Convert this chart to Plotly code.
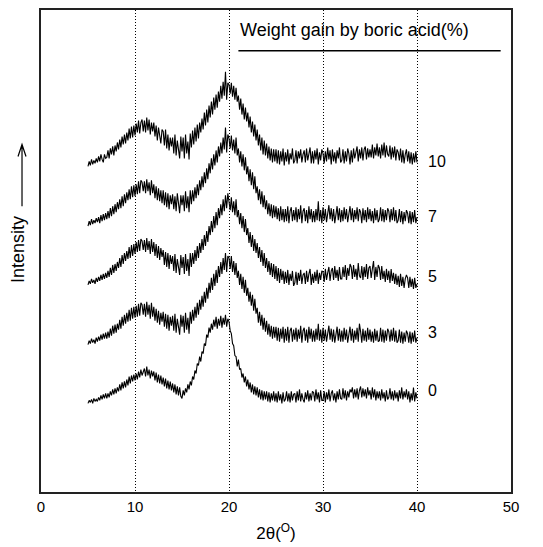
import numpy as np
import plotly.graph_objects as go

# 2theta scan grid (degrees), 0.125 deg steps from 5 to 40
two_theta = np.arange(5.0, 40.001, 0.125)

# stacked intensities (a.u.), one list per boric acid weight gain
# (one row per degree of 2theta)
wg_0 = [89, 92, 90, 93, 89, 94, 91, 93,
        91, 95, 92, 97, 93, 98, 94, 99,
        94, 99, 95, 101, 97, 103, 98, 104,
        99, 105, 101, 108, 102, 110, 104, 111,
        105, 113, 107, 116, 109, 117, 111, 118,
        112, 119, 113, 121, 115, 123, 117, 122,
        124, 116, 126, 117, 123, 114, 122, 116,
        121, 112, 120, 110, 118, 109, 117, 108,
        115, 106, 114, 104, 112, 103, 111, 102,
        109, 100, 108, 98, 106, 97, 105, 96,
        94, 102, 97, 104, 100, 108, 103, 111,
        107, 116, 113, 122, 119, 129, 127, 136,
        131, 141, 139, 149, 147, 158, 155, 165,
        160, 169, 163, 173, 166, 176, 164, 174,
        167, 177, 165, 175, 168, 178, 166, 174,
        171, 162, 159, 149, 147, 137, 136, 126,
        133, 123, 124, 115, 119, 110, 116, 106,
        113, 103, 110, 100, 108, 98, 106, 97,
        105, 95, 103, 93, 102, 92, 101, 93,
        101, 91, 100, 90, 99, 92, 101, 91,
        99, 90, 101, 92, 98, 89, 100, 91,
        93, 101, 91, 99, 90, 101, 92, 98,
        99, 90, 101, 92, 103, 91, 99, 93,
        90, 100, 93, 102, 91, 99, 92, 101,
        100, 91, 103, 93, 100, 90, 102, 92,
        92, 101, 90, 100, 93, 103, 91, 99,
        102, 92, 99, 90, 101, 93, 103, 94,
        93, 104, 94, 102, 92, 101, 95, 103,
        100, 105, 94, 103, 95, 104, 93, 102,
        106, 95, 104, 96, 103, 94, 105, 97,
        102, 93, 105, 95, 103, 92, 101, 94,
        101, 92, 103, 94, 100, 91, 102, 93,
        95, 104, 93, 101, 92, 102, 94, 100,
        91, 102, 94, 105, 93, 101, 95, 103,
        93, 101, 90, 99, 92, 105, 91, 100,
        94]

wg_3 = [148, 152, 149, 154, 150, 153, 149, 155,
        151, 156, 152, 158, 153, 159, 154, 160,
        154, 161, 155, 164, 157, 167, 159, 168,
        160, 169, 163, 173, 164, 176, 167, 178,
        169, 180, 171, 183, 172, 185, 174, 186,
        175, 187, 176, 189, 177, 190, 188, 178,
        189, 176, 191, 178, 188, 174, 190, 176,
        186, 172, 184, 170, 182, 168, 180, 171,
        181, 166, 179, 164, 178, 162, 176, 167,
        177, 162, 179, 160, 174, 166, 158, 178,
        166, 177, 160, 180, 163, 175, 159, 181,
        169, 183, 172, 186, 175, 190, 178, 193,
        183, 197, 186, 201, 190, 205, 194, 210,
        200, 215, 203, 219, 207, 223, 210, 227,
        216, 231, 219, 235, 223, 240, 221, 237,
        235, 224, 237, 221, 232, 218, 230, 215,
        222, 208, 219, 204, 216, 200, 213, 197,
        205, 191, 201, 187, 198, 182, 194, 179,
        185, 170, 181, 167, 178, 163, 175, 161,
        172, 158, 169, 156, 167, 154, 166, 155,
        166, 152, 165, 151, 164, 154, 166, 150,
        164, 152, 166, 150, 162, 165, 151, 163,
        153, 165, 151, 163, 154, 167, 150, 162,
        165, 152, 163, 150, 166, 154, 164, 151,
        162, 151, 164, 153, 169, 152, 163, 150,
        165, 152, 163, 151, 161, 167, 153, 164,
        151, 163, 150, 161, 166, 152, 164, 151,
        162, 151, 165, 153, 163, 150, 161, 166,
        152, 164, 150, 162, 153, 165, 151, 169,
        161, 150, 164, 152, 162, 151, 165, 153,
        163, 151, 161, 150, 164, 152, 162, 151,
        152, 165, 151, 163, 150, 162, 152, 164,
        161, 151, 163, 152, 165, 151, 162, 150,
        152, 163, 150, 161, 149, 160, 151, 162,
        159, 150, 161, 149, 160, 151, 162, 150,
        155]

wg_5 = [208, 212, 209, 214, 210, 213, 209, 215,
        211, 216, 212, 218, 213, 219, 214, 220,
        215, 222, 216, 225, 218, 228, 220, 229,
        222, 231, 225, 235, 226, 238, 229, 240,
        232, 242, 234, 246, 235, 248, 237, 249,
        239, 251, 241, 253, 242, 254, 252, 243,
        253, 241, 255, 243, 252, 239, 254, 241,
        251, 237, 249, 235, 247, 233, 245, 236,
        243, 228, 241, 226, 240, 224, 238, 229,
        237, 222, 239, 220, 234, 226, 218, 238,
        225, 236, 219, 239, 222, 234, 217, 240,
        226, 240, 229, 243, 232, 247, 235, 250,
        240, 254, 243, 258, 247, 262, 251, 267,
        258, 272, 261, 277, 265, 281, 268, 285,
        275, 289, 278, 294, 282, 298, 285, 300,
        293, 283, 296, 281, 292, 278, 294, 276,
        283, 269, 280, 265, 277, 261, 274, 258,
        265, 250, 261, 246, 258, 242, 254, 240,
        250, 235, 246, 231, 243, 227, 240, 225,
        235, 221, 232, 218, 230, 216, 229, 214,
        227, 212, 225, 210, 224, 213, 222, 209,
        221, 210, 223, 208, 219, 212, 222, 207,
        210, 221, 208, 220, 212, 223, 209, 218,
        220, 209, 222, 211, 219, 224, 208, 219,
        210, 221, 212, 223, 209, 220, 213, 222,
        221, 211, 224, 213, 220, 226, 212, 222,
        225, 213, 227, 215, 223, 212, 226, 214,
        214, 226, 216, 228, 213, 225, 217, 229,
        226, 214, 228, 216, 224, 213, 230, 217,
        215, 227, 213, 226, 216, 229, 214, 225,
        227, 215, 224, 232, 213, 226, 216, 228,
        225, 213, 227, 214, 222, 211, 224, 213,
        222, 210, 224, 212, 220, 209, 219, 208,
        217, 206, 219, 207, 216, 205, 214, 218,
        215, 205, 216, 206, 214, 204, 215, 205,
        209]

wg_7 = [267, 272, 268, 274, 269, 273, 270, 275,
        271, 276, 270, 278, 272, 279, 273, 280,
        274, 282, 275, 285, 277, 287, 279, 289,
        281, 291, 284, 294, 285, 297, 287, 299,
        290, 301, 293, 304, 294, 307, 296, 308,
        297, 309, 299, 312, 300, 313, 311, 302,
        312, 300, 314, 302, 311, 298, 313, 300,
        309, 295, 307, 293, 305, 292, 303, 290,
        303, 288, 301, 286, 300, 284, 298, 289,
        299, 284, 297, 282, 300, 286, 280, 298,
        288, 298, 282, 302, 285, 297, 281, 303,
        289, 303, 292, 306, 295, 309, 298, 313,
        303, 317, 306, 321, 310, 325, 314, 330,
        320, 335, 324, 339, 328, 343, 331, 347,
        337, 351, 340, 356, 344, 366, 341, 359,
        355, 345, 358, 343, 354, 340, 356, 338,
        345, 331, 342, 327, 339, 323, 336, 319,
        327, 312, 324, 308, 321, 304, 317, 300,
        307, 293, 304, 289, 302, 286, 298, 284,
        293, 279, 290, 277, 289, 275, 288, 276,
        287, 274, 285, 272, 287, 273, 284, 271,
        284, 272, 287, 270, 282, 286, 272, 283,
        273, 286, 271, 284, 274, 288, 270, 282,
        285, 272, 283, 270, 287, 274, 284, 271,
        282, 271, 284, 273, 292, 272, 283, 270,
        286, 273, 284, 271, 282, 288, 274, 285,
        272, 284, 270, 282, 287, 273, 285, 271,
        283, 272, 286, 274, 284, 271, 282, 287,
        273, 285, 271, 283, 274, 286, 272, 284,
        281, 270, 285, 273, 283, 271, 286, 274,
        284, 272, 282, 270, 285, 273, 283, 271,
        274, 286, 272, 284, 271, 283, 273, 285,
        282, 271, 284, 273, 286, 272, 283, 270,
        273, 284, 271, 282, 269, 281, 272, 283,
        280, 270, 282, 269, 281, 271, 283, 270,
        276]

wg_10 = [327, 332, 328, 334, 329, 333, 330, 335,
         331, 337, 332, 339, 334, 331, 339, 335,
         336, 343, 335, 345, 339, 347, 338, 348,
         342, 351, 344, 354, 346, 357, 349, 359,
         350, 361, 353, 365, 355, 367, 356, 368,
         358, 370, 361, 373, 360, 371, 374, 362,
         373, 361, 376, 363, 374, 359, 371, 362,
         371, 357, 368, 353, 366, 356, 350, 364,
         362, 348, 364, 345, 359, 343, 356, 347,
         356, 340, 359, 338, 353, 344, 335, 357,
         342, 356, 335, 359, 340, 352, 334, 360,
         346, 363, 349, 366, 352, 369, 355, 371,
         361, 375, 364, 381, 368, 384, 371, 388,
         376, 392, 379, 396, 384, 399, 386, 402,
         392, 408, 395, 412, 398, 422, 394, 411,
         409, 400, 411, 397, 408, 394, 406, 392,
         398, 384, 395, 379, 390, 374, 386, 372,
         381, 366, 377, 361, 372, 357, 369, 353,
         364, 348, 359, 343, 356, 339, 353, 338,
         350, 335, 347, 333, 345, 331, 344, 332,
         344, 330, 343, 329, 342, 332, 345, 328,
         341, 332, 344, 329, 340, 334, 345, 330,
         333, 343, 330, 342, 335, 344, 331, 339,
         343, 331, 345, 333, 340, 346, 330, 342,
         330, 343, 334, 345, 329, 341, 333, 344,
         340, 330, 342, 332, 346, 334, 343, 329,
         344, 332, 341, 330, 343, 335, 346, 331,
         333, 344, 330, 342, 332, 345, 340, 329,
         343, 331, 345, 335, 341, 347, 332, 344,
         335, 346, 333, 344, 347, 334, 345, 336,
         344, 336, 349, 335, 346, 338, 350, 337,
         346, 335, 349, 338, 351, 336, 348, 339,
         337, 348, 334, 346, 336, 347, 333, 344,
         341, 333, 345, 331, 343, 330, 339, 344,
         332, 342, 330, 341, 329, 340, 331, 342,
         331]

series = [("0", wg_0), ("3", wg_3), ("5", wg_5), ("7", wg_7), ("10", wg_10)]
label_y = [102, 160, 216, 277, 332]

fig = go.Figure()
for (label, vals), ly in zip(series, label_y):
    fig.add_trace(go.Scatter(x=two_theta, y=vals, mode="lines",
                             line=dict(color="black", width=1.1),
                             name=label, showlegend=False))
    fig.add_annotation(x=41.0, y=ly, text=label, showarrow=False,
                       xanchor="left", yanchor="middle",
                       font=dict(size=16, color="black"))

# header and underline
fig.add_annotation(x=33.4, y=464, text="Weight gain by boric acid(%)",
                   showarrow=False, xanchor="center", yanchor="middle",
                   font=dict(size=18, color="black"))
fig.add_shape(type="line", x0=21, x1=48.9, y0=443, y1=443,
              line=dict(color="black", width=1.5))

# intensity label with upward arrow
fig.add_annotation(xref="paper", yref="paper", x=-0.049, y=0.504,
                   text="Intensity", textangle=-90, showarrow=False,
                   xanchor="center", yanchor="middle",
                   font=dict(size=18, color="black"))
fig.add_shape(type="path", xref="paper", yref="paper",
              path="M -0.0404,0.593 L -0.0404,0.721 M -0.0489,0.696 L -0.0404,0.721 L -0.0319,0.696",
              line=dict(color="black", width=1.2))

fig.update_layout(
    width=543, height=547,
    margin=dict(l=33, r=40, t=0, b=63),
    plot_bgcolor="white", paper_bgcolor="white",
    font=dict(family="Liberation Sans, Arial, sans-serif", color="black"),
)
fig.update_xaxes(range=[0, 50], tickvals=[0, 10, 20, 30, 40, 50],
                 showgrid=True, gridcolor="black", griddash="1px,2px", gridwidth=1,
                 showline=True, linecolor="#222", linewidth=1.5, mirror=True,
                 ticks="", zeroline=False, tickfont=dict(size=15),
                 title=dict(text="2θ(<sup>O</sup>)", font=dict(size=17), standoff=13))
fig.update_yaxes(range=[0, 484], showgrid=False, showticklabels=False, ticks="",
                 showline=True, linecolor="#222", linewidth=1.5, mirror=True,
                 zeroline=False)

fig.write_html("out.html")
